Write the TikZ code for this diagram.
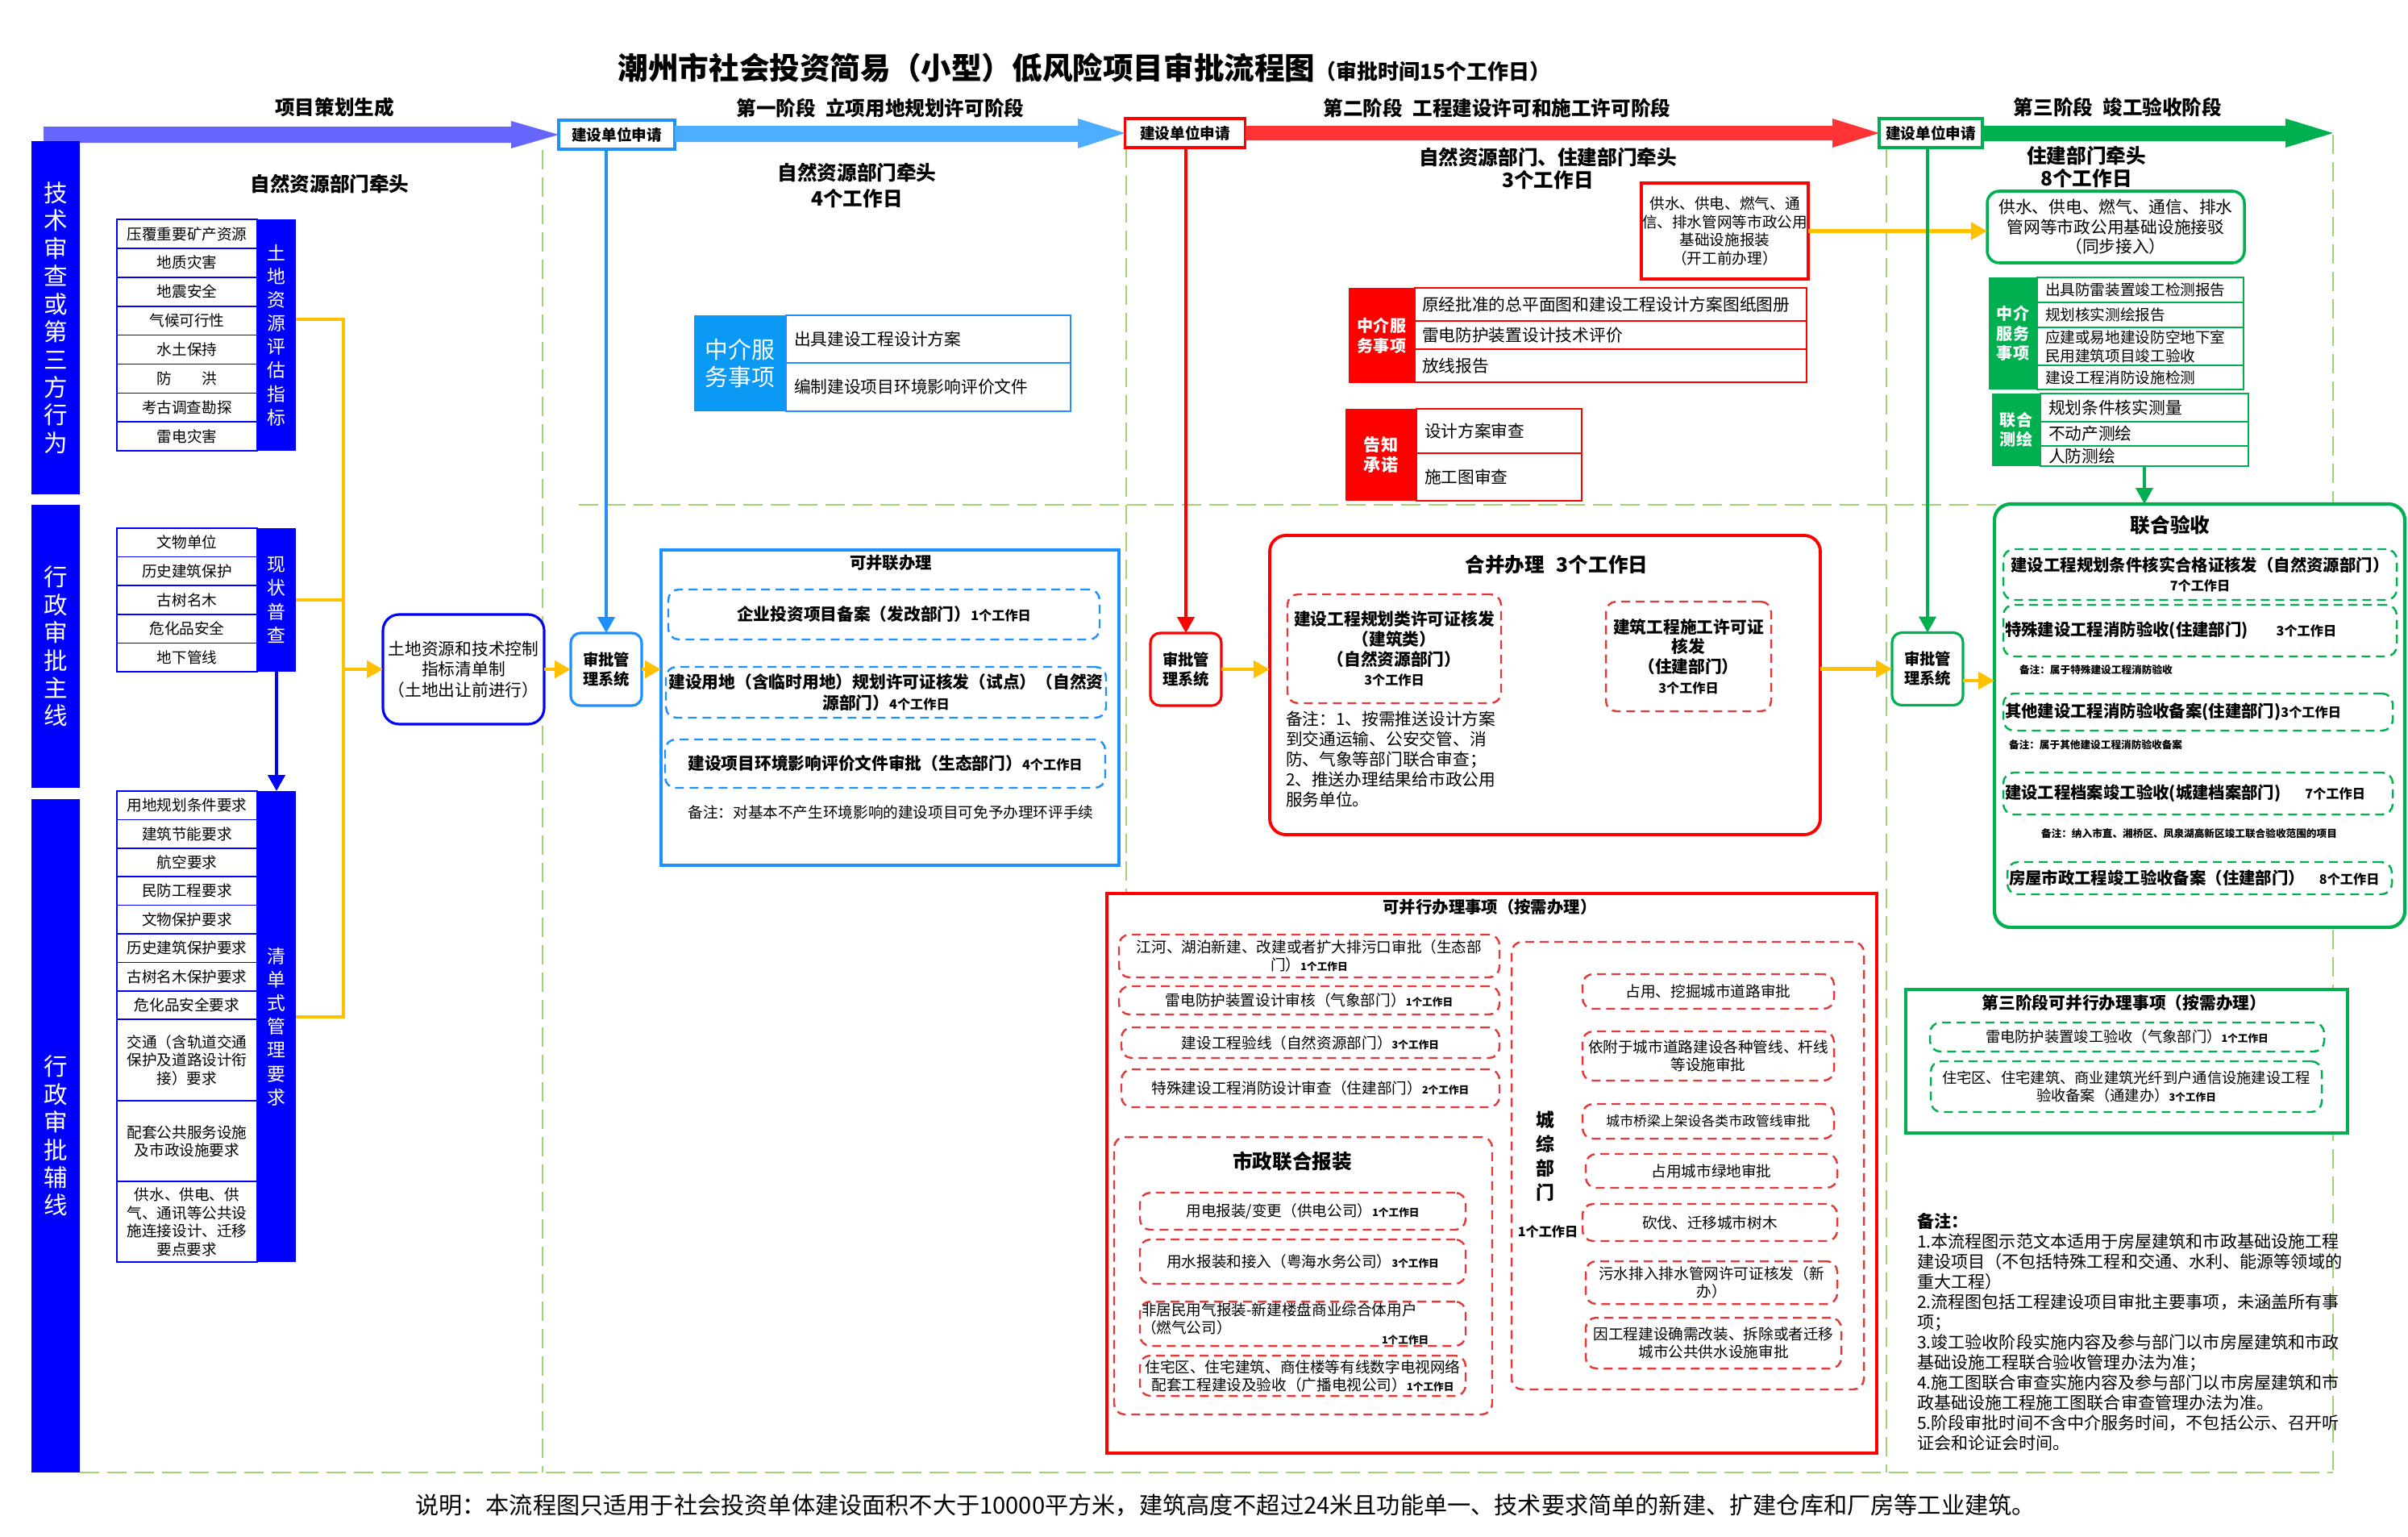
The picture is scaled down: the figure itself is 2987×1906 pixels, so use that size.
\documentclass[tikz,border=0pt]{standalone}
\usepackage{fontspec}
\setmainfont{Noto Sans CJK SC}
\usepackage{tikz}
\usetikzlibrary{positioning,arrows.meta}

\definecolor{pblue}{HTML}{0000FF}
\definecolor{lilac}{HTML}{6666FF}
\definecolor{sky}{HTML}{1E90FF}
\definecolor{skyfill}{HTML}{4DAEFF}
\definecolor{skycol}{HTML}{0A9AF5}
\definecolor{rred}{HTML}{FF0000}
\definecolor{rfill}{HTML}{FF3535}
\definecolor{rdash}{HTML}{E23A3A}
\definecolor{ggreen}{HTML}{00B050}
\definecolor{gline}{HTML}{A2D273}
\definecolor{amber}{HTML}{FFC000}

\newcommand{\wday}[1]{{\fontsize{4.6}{5.5}\selectfont\bfseries #1}}
\newcommand{\wdsm}[1]{{\fontsize{3.6}{4.5}\selectfont\bfseries #1}}

\begin{document}
\begin{tikzpicture}[x=0.1mm,y=-0.1mm,>={Triangle[length=2mm,width=2.1mm]},
	every node/.style={inner sep=0pt,outer sep=0pt},
	lay/.style={gline,line width=0.6pt,dash pattern=on 2.4mm off 1mm},
	yl/.style={amber,line width=1.4pt},
	bar/.style={fill=pblue,text=white,minimum width=6mm,align=center,font=\fontsize{8.4}{9.8}\selectfont},
	tcol/.style={fill=pblue,text=white,minimum width=4.8mm,align=center,font=\fontsize{6.5}{8.3}\selectfont},
	cell/.style={draw=pblue,line width=0.5pt,fill=white,minimum width=17.4mm,minimum height=#1*0.1mm,align=center,font=\fontsize{5.3}{6.4}\selectfont},
	cell/.default=35.9,
	req/.style={draw=#1,line width=0.9pt,fill=white,minimum height=3.6mm,font=\fontsize{5.3}{6.4}\selectfont\bfseries},
	spbox/.style={draw=#1,line width=0.9pt,fill=white,rounded corners=1.2mm,minimum width=8.8mm,minimum height=9mm,align=center,font=\fontsize{5.5}{6.8}\selectfont\bfseries},
	zcol/.style={fill=#1,text=white,align=center,font=\fontsize{5.7}{7}\selectfont\bfseries},
	trow/.style={draw=#1,line width=0.6pt,fill=white,inner xsep=1mm,align=left,font=\fontsize{5.9}{7}\selectfont},
	dbox/.style={draw=#1,line width=0.7pt,dash pattern=on 1.1mm off 0.7mm,rounded corners=1.3mm,align=center},
	hd/.style={font=\fontsize{7}{8.5}\selectfont\bfseries,align=center},
	bt/.style={font=\fontsize{5.8}{7}\selectfont\bfseries},
	rt/.style={font=\fontsize{5.3}{6.3}\selectfont}]

	\useasboundingbox (0,0) rectangle (2987,1906);

	\draw[lay] (673,186) -- (673,1826);
	\draw[lay] (1397,184) -- (1397,1108);
	\draw[lay] (2340,184) -- (2340,1826);
	\draw[lay] (2894,167) -- (2894,1826);
	\draw[lay] (718,626) -- (2894,626);
	\draw[lay] (99,1826) -- (2894,1826);

	\node (title) at (1345,84) {{\fontsize{10.7}{12}\selectfont\bfseries 潮州市社会投资简易（小型）低风险项目审批流程图}{\fontsize{7.4}{9}\selectfont\bfseries （审批时间15个工作日）}};
	\node[hd] (ph0) at (415,133) {项目策划生成};
	\node[hd] (ph1) at (1092,134) {第一阶段\hspace{0.5em}立项用地规划许可阶段};
	\node[hd] (ph2) at (1857,134) {第二阶段\hspace{0.5em}工程建设许可和施工许可阶段};
	\node[hd] (ph3) at (2627,133) {第三阶段\hspace{0.5em}竣工验收阶段};

	\node[req=sky,minimum width=14.4mm] (req1) at (765,167) {建设单位申请};
	\node[req=rred,minimum width=14.9mm] (req2) at (1470,165) {建设单位申请};
	\node[req=ggreen,minimum width=12.8mm] (req3) at (2395,165) {建设单位申请};

	\fill[lilac] (54,157) -- (634,157) -- (634,150) -- (req1.west) -- (634,184) -- (634,177) -- (54,177) -- cycle;
	\fill[skyfill] (837,156) -- (1337,156) -- (1337,147) -- (req2.west) -- (1337,184) -- (1337,176) -- (837,176) -- cycle;
	\fill[rfill] (1545,156) -- (2273,156) -- (2273,147) -- (req3.west) -- (2273,183) -- (2273,174) -- (1545,174) -- cycle;
	\fill[ggreen] (2459,156) -- (2835,156) -- (2835,147) -- (2894,165) -- (2835,183) -- (2835,175) -- (2459,175) -- cycle;

	\node[bar,minimum height=43.8mm] (bar1) at (69,394) {技\\术\\审\\查\\或\\第\\三\\方\\行\\为};
	\node[bar,minimum height=35.1mm] (bar2) at (69,801.5) {行\\政\\审\\批\\主\\线};
	\node[bar,minimum height=83.5mm] (bar3) at (69,1408.5) {行\\政\\审\\批\\辅\\线};

	\node[hd] (lead0) at (409,228) {自然资源部门牵头};

	\node[cell,anchor=north west] (td1) at (145,272) {压覆重要矿产资源};
	\node[cell,below=0pt of td1] (td2) {地质灾害};
	\node[cell,below=0pt of td2] (td3) {地震安全};
	\node[cell,below=0pt of td3] (td4) {气候可行性};
	\node[cell,below=0pt of td4] (td5) {水土保持};
	\node[cell,below=0pt of td5] (td6) {防\hspace{2em}洪};
	\node[cell,below=0pt of td6] (td7) {考古调查勘探};
	\node[cell,below=0pt of td7] (td8) {雷电灾害};
	\node[tcol,minimum height=28.7mm,anchor=north west] (tdcol) at (td1.north east) {土\\地\\资\\源\\评\\估\\指\\标};

	\node[cell=35.6,anchor=north west] (xz1) at (145,655) {文物单位};
	\node[cell=35.6,below=0pt of xz1] (xz2) {历史建筑保护};
	\node[cell=35.6,below=0pt of xz2] (xz3) {古树名木};
	\node[cell=35.6,below=0pt of xz3] (xz4) {危化品安全};
	\node[cell=35.6,below=0pt of xz4] (xz5) {地下管线};
	\node[tcol,minimum height=17.8mm,anchor=north west] (xzcol) at (xz1.north east) {现\\状\\普\\查};

	\node[cell=35.4,anchor=north west] (qd1) at (145,981) {用地规划条件要求};
	\node[cell=35.4,below=0pt of qd1] (qd2) {建筑节能要求};
	\node[cell=35.4,below=0pt of qd2] (qd3) {航空要求};
	\node[cell=35.4,below=0pt of qd3] (qd4) {民防工程要求};
	\node[cell=35.4,below=0pt of qd4] (qd5) {文物保护要求};
	\node[cell=35.4,below=0pt of qd5] (qd6) {历史建筑保护要求};
	\node[cell=35.4,below=0pt of qd6] (qd7) {古树名木保护要求};
	\node[cell=35.4,below=0pt of qd7] (qd8) {危化品安全要求};
	\node[cell=101,below=0pt of qd8] (qd9) {交通（含轨道交通\\保护及道路设计衔\\接）要求};
	\node[cell=100,below=0pt of qd9] (qd10) {配套公共服务设施\\及市政设施要求};
	\node[cell=100,below=0pt of qd10] (qd11) {供水、供电、供\\气、通讯等公共设\\施连接设计、迁移\\要点要求};
	\node[tcol,minimum height=58.4mm,anchor=north west] (qdcol) at (qd1.north east) {清\\单\\式\\管\\理\\要\\求};

	\draw[->,pblue,line width=1.3pt] (xzcol.south) -- (qdcol.north);

	\node[draw=pblue,line width=0.9pt,rounded corners=2mm,fill=white,minimum width=20mm,minimum height=13.6mm,align=center,font=\fontsize{5.9}{7.3}\selectfont] (kz) at (575,830) {土地资源和技术控制\\指标清单制\\（土地出让前进行）};
	\coordinate (yj) at (426,830);
	\draw[yl] ([yshift=1.95mm]tdcol.east) -| (yj);
	\draw[yl] (xzcol.east) -| (yj);
	\draw[yl] ([yshift=1.2mm]qdcol.east) -| (yj);
	\draw[yl,->] (yj) -- (kz);

	\node[spbox=sky] (sp1) at (752,830) {审批管\\理系统};
	\draw[->,sky,line width=1.2pt] (sp1.north |- req1.south) -- (sp1.north);
	\draw[yl,->] (kz) -- (sp1);

	\node[hd,font=\fontsize{7}{9.1}\selectfont\bfseries] (lead1) at (1063,230) {自然资源部门牵头\\4个工作日};
	\node[zcol=skycol,font=\fontsize{8.2}{9.5}\selectfont,minimum width=11.4mm,minimum height=11.9mm,anchor=north west] (zj1col) at (861,391) {中介服\\务事项};
	\node[trow=sky,text width=33.3mm,minimum height=5.9mm,anchor=north west] (zj1a) at (zj1col.north east) {出具建设工程设计方案};
	\node[trow=sky,text width=33.3mm,minimum height=6mm,below=0pt of zj1a] (zj1b) {编制建设项目环境影响评价文件};

	\node[draw=sky,line width=1.1pt,fill=white,minimum width=56.8mm,minimum height=39.1mm] (kbl) at (1104,877.5) {};
	\draw[yl,->] (sp1.east) -- (sp1.east -| kbl.west);
	\node[bt] (kblt) at (1105,698) {可并联办理};
	\node[dbox=sky,bt,font=\fontsize{5.9}{7.2}\selectfont\bfseries,minimum width=53.5mm,minimum height=6.2mm] (kb1) at (1096.5,762) {企业投资项目备案（发改部门）\wday{1个工作日}};
	\node[dbox=sky,font=\fontsize{5.9}{7.2}\selectfont\bfseries,minimum width=54.6mm,minimum height=6.3mm] (kb2) at (1099,858.5) {建设用地（含临时用地）规划许可证核发（试点）（自然资\\源部门）\wday{4个工作日}};
	\node[dbox=sky,font=\fontsize{5.9}{7.2}\selectfont\bfseries,minimum width=54.6mm,minimum height=6mm] (kb3) at (1098,947) {建设项目环境影响评价文件审批（生态部门）\wday{4个工作日}};
	\node[rt] (kbn) at (1105,1007) {备注：对基本不产生环境影响的建设项目可免予办理环评手续};

	\node[hd,font=\fontsize{7}{8}\selectfont\bfseries] (lead2) at (1920,209) {自然资源部门、住建部门牵头\\3个工作日};
	\node[hd,font=\fontsize{7}{8}\selectfont\bfseries] (lead3) at (2588,207) {住建部门牵头\\8个工作日};

	\node[draw=rred,line width=1pt,fill=white,minimum width=20.7mm,minimum height=11.9mm,align=center,font=\fontsize{5.3}{6.4}\selectfont] (gd) at (2139.5,286.5) {供水、供电、燃气、通\\信、排水管网等市政公用\\基础设施报装\\（开工前办理）};
	\node[draw=ggreen,line width=1pt,rounded corners=1.5mm,fill=white,minimum width=31.9mm,minimum height=8.9mm,align=center,font=\fontsize{5.9}{7}\selectfont] (gj) at (2624.5,281.5) {供水、供电、燃气、通信、排水\\管网等市政公用基础设施接驳\\（同步接入）};
	\draw[yl,->] (gd.east) -- (gd.east -| gj.west);

	\node[zcol=rred,minimum width=8.2mm,minimum height=11.8mm,anchor=north west] (zj2col) at (1673,357) {中介服\\务事项};
	\node[trow=rred,text width=46.8mm,inner xsep=0.9mm,minimum height=4.1mm,anchor=north west] (zj2a) at (zj2col.north east) {原经批准的总平面图和建设工程设计方案图纸图册};
	\node[trow=rred,text width=46.8mm,inner xsep=0.9mm,minimum height=3.5mm,below=0pt of zj2a] (zj2b) {雷电防护装置设计技术评价};
	\node[trow=rred,text width=46.8mm,inner xsep=0.9mm,minimum height=4.1mm,below=0pt of zj2b] (zj2c) {放线报告};

	\node[zcol=rred,font=\fontsize{6}{7}\selectfont\bfseries,minimum width=8.8mm,minimum height=11.4mm,anchor=north west] (gzcol) at (1669,507) {告知\\承诺};
	\node[trow=rred,text width=18.5mm,minimum height=5.5mm,anchor=north west] (gz1) at (gzcol.north east) {设计方案审查};
	\node[trow=rred,text width=18.5mm,minimum height=5.9mm,below=0pt of gz1] (gz2) {施工图审查};

	\node[spbox=rred] (sp2) at (1471,830) {审批管\\理系统};
	\draw[->,rred,line width=1.2pt] (sp2.north |- req2.south) -- (sp2.north);

	\node[draw=rred,line width=1.1pt,rounded corners=2mm,fill=white,minimum width=68.3mm,minimum height=37.1mm] (hb) at (1916.5,849.5) {};
	\draw[yl,->] (sp2.east) -- (sp2.east -| hb.west);
	\node[hd] (hbt) at (1931,700) {合并办理\hspace{0.6em}3个工作日};
	\node[dbox=rdash,font=\fontsize{5.9}{7}\selectfont\bfseries,minimum width=26.5mm,minimum height=13.5mm] (hbA) at (1729.5,804.5) {建设工程规划类许可证核发\\（建筑类）\\（自然资源部门）\\\wday{3个工作日}};
	\node[dbox=rdash,font=\fontsize{5.9}{7}\selectfont\bfseries,minimum width=20.5mm,minimum height=13.6mm] (hbB) at (2094.5,814) {建筑工程施工许可证\\核发\\（住建部门）\\\wday{3个工作日}};
	\node[anchor=north west,align=left,font=\fontsize{5.9}{7.1}\selectfont] (hbn) at (1595,882) {备注：1、按需推送设计方案\\到交通运输、公安交管、消\\防、气象等部门联合审查；\\2、推送办理结果给市政公用\\服务单位。};

	\node[spbox=ggreen] (sp3) at (2391,829.5) {审批管\\理系统};
	\draw[->,ggreen,line width=1.2pt] (sp3.north |- req3.south) -- (sp3.north);
	\draw[yl,->] (sp3.west -| hb.east) -- (sp3.west);

	\node[zcol=ggreen,minimum width=6mm,minimum height=13.9mm,anchor=north west] (zj3col) at (2467,344) {中介\\服务\\事项};
	\node[trow=ggreen,text width=23.6mm,font=\fontsize{5.3}{6.5}\selectfont,minimum height=3.1mm,anchor=north west] (zj3a) at (zj3col.north east) {出具防雷装置竣工检测报告};
	\node[trow=ggreen,text width=23.6mm,font=\fontsize{5.3}{6.5}\selectfont,minimum height=3.1mm,below=0pt of zj3a] (zj3b) {规划核实测绘报告};
	\node[trow=ggreen,text width=23.6mm,font=\fontsize{5.3}{6.5}\selectfont,minimum height=4.7mm,below=0pt of zj3b] (zj3c) {应建或易地建设防空地下室\\民用建筑项目竣工验收};
	\node[trow=ggreen,text width=23.6mm,font=\fontsize{5.3}{6.5}\selectfont,minimum height=3mm,below=0pt of zj3c] (zj3d) {建设工程消防设施检测};

	\node[zcol=ggreen,minimum width=6mm,minimum height=9mm,anchor=north west] (chcol) at (2471,488) {联合\\测绘};
	\node[trow=ggreen,text width=23.8mm,minimum height=3.5mm,anchor=north west] (ch1) at (chcol.north east) {规划条件核实测量};
	\node[trow=ggreen,text width=23.8mm,minimum height=3mm,below=0pt of ch1] (ch2) {不动产测绘};
	\node[trow=ggreen,text width=23.8mm,minimum height=2.5mm,below=0pt of ch2] (ch3) {人防测绘};

	\node[draw=ggreen,line width=1.2pt,rounded corners=2mm,fill=white,minimum width=50.9mm,minimum height=52.5mm] (ys) at (2728.5,887.5) {};
	\draw[->,ggreen,line width=1.2pt] (ch3.south) -- (ch3.south |- ys.north);
	\draw[yl,->] ([yshift=-1.45mm]sp3.east) -- ([yshift=-1.45mm]sp3.east -| ys.west);
	\node[hd] (yst) at (2692,651) {联合验收};
	\node[dbox=ggreen,bt,minimum width=48.8mm,minimum height=6.3mm] (ysa) at (2729,712.5) {建设工程规划条件核实合格证核发（自然资源部门）\\\wday{7个工作日}};
	\node[dbox=ggreen,bt,align=left,text width=48.4mm,inner xsep=0.2mm,minimum height=6.4mm] (ysb) at (2729,782) {特殊建设工程消防验收(住建部门)\hspace{3.5mm}\wday{3个工作日}};
	\node[anchor=west,font=\fontsize{3.6}{4.5}\selectfont\bfseries] (ysbn) at (2505,831) {备注：属于特殊建设工程消防验收};
	\node[dbox=ggreen,bt,align=left,text width=47.9mm,inner xsep=0.2mm,minimum height=4.6mm] (ysc) at (2726.5,883) {其他建设工程消防验收备案(住建部门)\wday{3个工作日}};
	\node[anchor=west,font=\fontsize{3.6}{4.5}\selectfont\bfseries] (yscn) at (2492,924) {备注：属于其他建设工程消防验收备案};
	\node[dbox=ggreen,bt,align=left,text width=47.9mm,inner xsep=0.2mm,minimum height=5.2mm] (ysd) at (2726.5,984) {建设工程档案竣工验收(城建档案部门)\hspace{3mm}\wday{7个工作日}};
	\node[anchor=west,font=\fontsize{3.6}{4.5}\selectfont\bfseries] (ysdn) at (2532,1034) {备注：纳入市直、湘桥区、凤泉湖高新区竣工联合验收范围的项目};
	\node[dbox=ggreen,bt,align=left,text width=47.3mm,inner xsep=0.2mm,minimum height=4mm] (yse) at (2728.5,1089) {房屋市政工程竣工验收备案（住建部门）\hspace{1.8mm}\wday{8个工作日}};

	\node[draw=rred,line width=1.2pt,fill=white,minimum width=95.5mm,minimum height=69.4mm] (bx) at (1850.5,1455) {};
	\node[bt] (bxt) at (1848,1125) {可并行办理事项（按需办理）};
	\node[dbox=rdash,rt,minimum width=47.2mm,minimum height=5.3mm] (bx1) at (1624,1185.5) {江河、湖泊新建、改建或者扩大排污口审批（生态部\\门）\wdsm{1个工作日}};
	\node[dbox=rdash,rt,minimum width=47.2mm,minimum height=3.5mm] (bx2) at (1624,1240.5) {雷电防护装置设计审核（气象部门）\wdsm{1个工作日}};
	\node[dbox=rdash,rt,minimum width=46.9mm,minimum height=3.8mm] (bx3) at (1625.5,1293) {建设工程验线（自然资源部门）\wdsm{3个工作日}};
	\node[dbox=rdash,rt,minimum width=46.9mm,minimum height=4.7mm] (bx4) at (1625.5,1349.5) {特殊建设工程消防设计审查（住建部门）\wdsm{2个工作日}};

	\node[dbox=rdash,minimum width=46.9mm,minimum height=34.4mm] (sz) at (1616.5,1582) {};
	\node[hd] (szt) at (1603,1440) {市政联合报装};
	\node[dbox=rdash,rt,minimum width=40.4mm,minimum height=4.6mm] (sz1) at (1616,1502) {用电报装/变更（供电公司）\wdsm{1个工作日}};
	\node[dbox=rdash,rt,minimum width=40.4mm,minimum height=5.5mm] (sz2) at (1616,1564.5) {用水报装和接入（粤海水务公司）\wdsm{3个工作日}};
	\node[dbox=rdash,rt,align=left,text width=40mm,inner xsep=0.2mm,minimum height=5.5mm] (sz3) at (1616,1641.5) {非居民用气报装-新建楼盘商业综合体用户\\（燃气公司）\\[-2.5pt]\hspace*{29.8mm}\wdsm{1个工作日}};
	\node[dbox=rdash,rt,minimum width=40.4mm,minimum height=5mm] (sz4) at (1616,1706) {住宅区、住宅建筑、商住楼等有线数字电视网络\\配套工程建设及验收（广播电视公司）\wdsm{1个工作日}};

	\node[dbox=rdash,minimum width=43.7mm,minimum height=55.5mm] (cz) at (2093.5,1445.5) {};
	\node[font=\fontsize{6.5}{8.5}\selectfont\bfseries,align=center] (czt) at (1917,1434) {城\\综\\部\\门};
	\node[font=\fontsize{4.6}{5.5}\selectfont\bfseries] (czd) at (1920,1527) {1个工作日};
	\node[dbox=rdash,rt,minimum width=31.2mm,minimum height=4.3mm] (cz1) at (2119,1229.5) {占用、挖掘城市道路审批};
	\node[dbox=rdash,rt,minimum width=31.2mm,minimum height=6.1mm] (cz2) at (2119,1309.5) {依附于城市道路建设各种管线、杆线\\等设施审批};
	\node[dbox=rdash,font=\fontsize{4.8}{5.8}\selectfont,minimum width=31.2mm,minimum height=4.3mm] (cz3) at (2119,1390.5) {城市桥梁上架设各类市政管线审批};
	\node[dbox=rdash,rt,minimum width=31.2mm,minimum height=4.2mm] (cz4) at (2123,1452) {占用城市绿地审批};
	\node[dbox=rdash,rt,minimum width=31.6mm,minimum height=4.6mm] (cz5) at (2121,1516) {砍伐、迁移城市树木};
	\node[dbox=rdash,rt,minimum width=31.2mm,minimum height=5.3mm] (cz6) at (2123,1590.5) {污水排入排水管网许可证核发（新\\办）};
	\node[dbox=rdash,rt,minimum width=31.7mm,minimum height=6.3mm] (cz7) at (2125.5,1665.5) {因工程建设确需改装、拆除或者迁移\\城市公共供水设施审批};

	\node[draw=ggreen,line width=1.1pt,fill=white,minimum width=54.8mm,minimum height=17.8mm] (p3x) at (2638,1316) {};
	\node[bt,font=\fontsize{5.9}{7}\selectfont\bfseries] (p3t) at (2635,1244) {第三阶段可并行办理事项（按需办理）};
	\node[dbox=ggreen,font=\fontsize{5.2}{6.3}\selectfont,minimum width=48.9mm,minimum height=3.6mm] (p3a) at (2638.5,1286) {雷电防护装置竣工验收（气象部门）\wdsm{1个工作日}};
	\node[dbox=ggreen,font=\fontsize{5.2}{6.3}\selectfont,minimum width=48.5mm,minimum height=6.3mm] (p3b) at (2637.5,1347.5) {住宅区、住宅建筑、商业建筑光纤到户通信设施建设工程\\验收备案（通建办）\wdsm{3个工作日}};

	\node[anchor=west,align=left,font=\fontsize{6}{7.1}\selectfont] (notes) at (2378,1651.5) {\textbf{备注：}\\1.本流程图示范文本适用于房屋建筑和市政基础设施工程\\建设项目（不包括特殊工程和交通、水利、能源等领域的\\重大工程）\\2.流程图包括工程建设项目审批主要事项，未涵盖所有事\\项；\\3.竣工验收阶段实施内容及参与部门以市房屋建筑和市政\\基础设施工程联合验收管理办法为准；\\4.施工图联合审查实施内容及参与部门以市房屋建筑和市\\政基础设施工程施工图联合审查管理办法为准。\\5.阶段审批时间不含中介服务时间，不包括公示、召开听\\证会和论证会时间。};

	\node[font=\fontsize{8.3}{10}\selectfont] (foot) at (1520,1867) {说明：本流程图只适用于社会投资单体建设面积不大于10000平方米，建筑高度不超过24米且功能单一、技术要求简单的新建、扩建仓库和厂房等工业建筑。};

\end{tikzpicture}
\end{document}
